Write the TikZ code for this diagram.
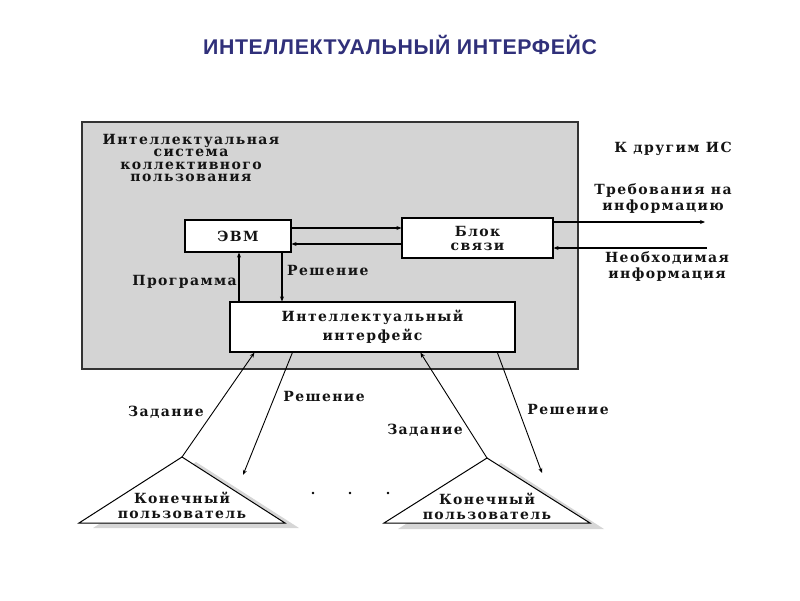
\documentclass[tikz,border=0pt]{standalone}
\usepackage{fontspec}
\setmainfont{Liberation Serif}
\newfontfamily\titlefont{Liberation Sans}[LetterSpace=3]
\newfontfamily\scanfont{DejaVu Serif}[LetterSpace=10]
\usetikzlibrary{arrows.meta,calc}
\definecolor{titleblue}{RGB}{48,48,122}
\definecolor{panel}{RGB}{212,212,212}
\begin{document}
\begin{tikzpicture}[x=1pt,y=-1pt,
  txt/.style={font={\scanfont\bfseries\fontsize{14}{13}\selectfont}, inner sep=0pt, text=black!92},
  lbl/.style={txt, anchor=base},
  box/.style={draw=black, line width=1.2pt, fill=white, inner sep=0pt, align=center, txt},
  arr/.style={-{Stealth[length=5pt,width=4pt]}, line width=1.1pt},
  thinarr/.style={-{Stealth[length=5pt,width=4pt]}, line width=0.9pt},
  tri/.style={draw=black, line width=1pt, fill=white},
  shade/.style={fill=black!16},
]
\useasboundingbox (0,0) rectangle (800,600);

% title
\node[font={\titlefont\bfseries\fontsize{21.3}{25}\selectfont}, text=titleblue, anchor=base, inner sep=0pt] (title) at (400,54) {ИНТЕЛЛЕКТУАЛЬНЫЙ ИНТЕРФЕЙС};

% system panel
\node[draw=black!80, line width=1.6pt, fill=panel, minimum width=496pt, minimum height=247pt, inner sep=0pt] (sys) at (330,245.5) {};
\node[txt, align=center, font={\scanfont\bfseries\fontsize{14}{12.5}\selectfont}] (systitle) at (191,158) {Интеллектуальная\\система\\коллективного\\пользования};

% boxes
\node[box, minimum width=106pt, minimum height=32pt] (evm) at (238,236) {ЭВМ};
\node[box, minimum width=151pt, minimum height=40pt, font={\scanfont\bfseries\fontsize{14}{14}\selectfont}] (blok) at (477.5,238) {Блок\\связи};
\node[box, minimum width=285pt, minimum height=50pt, font={\scanfont\bfseries\fontsize{14}{19}\selectfont}] (iface) at (372.5,327) {Интеллектуальный\\интерфейс};

% inner arrows
\coordinate (e1) at ([yshift=8pt]evm.east);
\draw[arr, line width=1.6pt] (e1) -- (e1 -| blok.west);
\coordinate (b1) at ([yshift=-6pt]blok.west);
\draw[arr] (b1) -- (b1 -| evm.east);
\coordinate (i1) at ([xshift=-133.5pt]iface.north);
\draw[arr] (i1) -- (i1 |- evm.south);
\coordinate (i2) at ([xshift=-90.5pt]iface.north);
\draw[arr] (i2 |- evm.south) -- (i2);

\node[lbl, anchor=base east] (prog) at (237,285) {Программа};
\node[lbl, anchor=base west] (resh1) at (287,275) {Решение};

% right side
\coordinate (b2) at ([yshift=16pt]blok.east);
\coordinate (outR) at (705,222);
\draw[arr] (b2) -- (outR);
\coordinate (inR) at (707,248);
\draw[arr] (inR) -- (inR -| blok.east);

\node[lbl] (kdrug) at (673,152) {К другим ИС};
\node[txt, align=center, font={\scanfont\bfseries\fontsize{14}{16}\selectfont}] (treb) at (663,199) {Требования на\\информацию};
\node[txt, align=center, font={\scanfont\bfseries\fontsize{14}{16}\selectfont}] (neob) at (667,267) {Необходимая\\информация};

% users
\coordinate (apexL) at (182,457);
\coordinate (apexR) at (487,458);
\fill[shade] ($(apexL)+(14,5)$) -- ++(-103,66) -- ++(206,0) -- cycle;
\fill[shade] ($(apexR)+(14,5)$) -- ++(-103,66) -- ++(206,0) -- cycle;
\draw[tri] (apexL) -- ++(-103,66) -- ++(206,0) -- cycle;
\draw[tri] (apexR) -- ++(-103,65) -- ++(206,0) -- cycle;
\node[txt, align=center, font={\scanfont\bfseries\fontsize{14}{15}\selectfont}] (userL) at (182,505) {Конечный\\пользователь};
\node[txt, align=center, font={\scanfont\bfseries\fontsize{14}{15}\selectfont}] (userR) at (487,506) {Конечный\\пользователь};

% bottom arrows
\coordinate (sL1) at ($(iface.south west)+(25,0)$);
\coordinate (sL2) at ($(iface.south west)+(63,0)$);
\coordinate (sR1) at ($(iface.south west)+(191,0)$);
\coordinate (sR2) at ($(iface.south west)+(268,0)$);
\coordinate (tipL) at (243,475);
\coordinate (tipR) at (542,473);
\draw[thinarr] (apexL) -- (sL1);
\draw[thinarr] (sL2) -- (tipL);
\draw[thinarr] (apexR) -- (sR1);
\draw[thinarr] (sR2) -- (tipR);

\node[lbl] (zadL) at (166,416) {Задание};
\node[lbl] (reshL) at (324,401) {Решение};
\node[lbl] (zadR) at (425,434) {Задание};
\node[lbl] (reshR) at (568,414) {Решение};

% ellipsis dots
\fill (313,493) circle (1.3);
\fill (350,493) circle (1.3);
\fill (388,493) circle (1.3);
\end{tikzpicture}
\end{document}
